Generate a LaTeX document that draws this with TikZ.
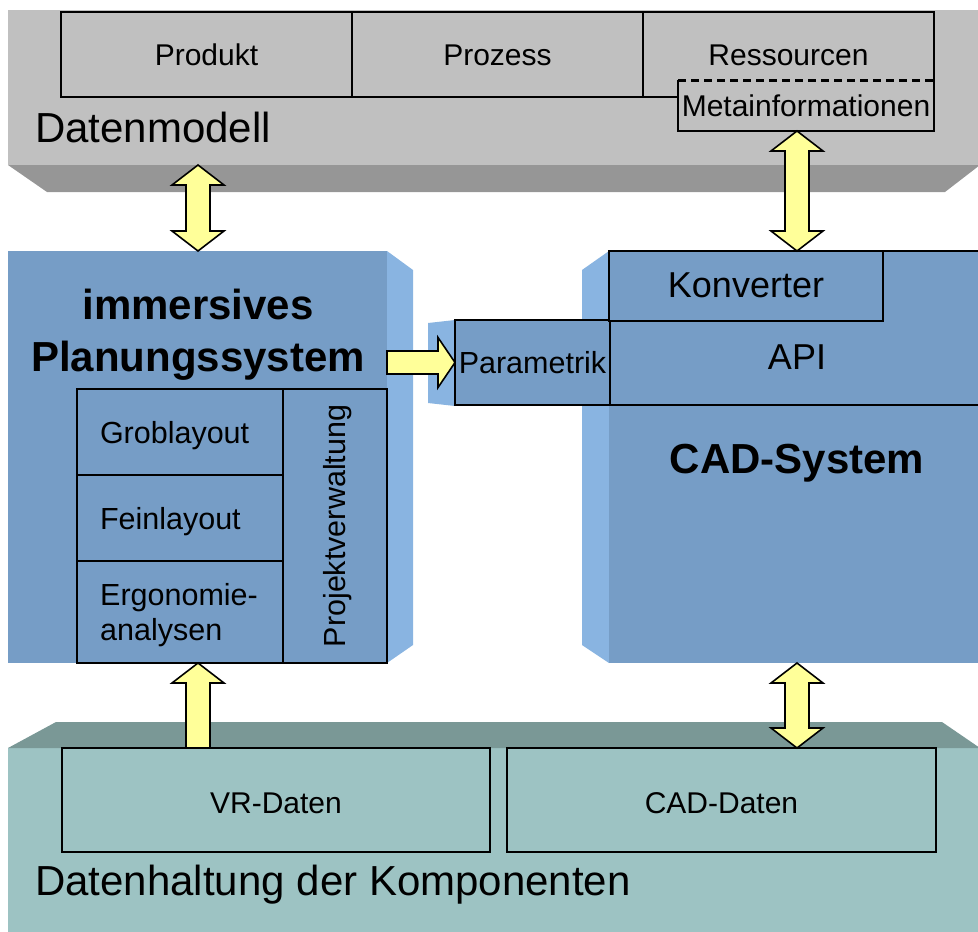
\documentclass[tikz,border=0pt]{standalone}
\usepackage{fontspec}
\setmainfont{Liberation Sans}
\usetikzlibrary{calc}
\definecolor{dmgray}{RGB}{192,192,192}
\definecolor{dmshade}{RGB}{150,150,150}
\definecolor{blkblue}{RGB}{118,157,198}
\definecolor{blkside}{RGB}{137,180,225}
\definecolor{dhteal}{RGB}{157,195,195}
\definecolor{dhshade}{RGB}{122,152,150}
\definecolor{arrowyellow}{RGB}{255,255,153}

% vertical double block arrow: #1 top tip, #2 bottom tip
\newcommand{\vdblarrow}[2]{\draw[yarrow] (#1) -- ++(26,20) -- ++(-14,0) -- ($(#2)+(12,-20)$) -- ++(14,0) -- (#2) -- ++(-26,-20) -- ++(14,0) -- ($(#1)+(-12,20)$) -- ++(-14,0) -- cycle;}
% vertical single block arrow: #1 tip (top), #2 tail (bottom)
\newcommand{\vuparrow}[2]{\draw[yarrow] (#1) -- ++(26,20) -- ++(-14,0) -- ($(#2)+(12,0)$) -- ($(#2)+(-12,0)$) -- ($(#1)+(-12,20)$) -- ++(-14,0) -- cycle;}
% horizontal single block arrow: #1 tail, #2 tip
\newcommand{\hrarrow}[2]{\draw[yarrow] ($(#1)+(0,-11.5)$) -- ($(#2)+(-17,-11.5)$) -- ($(#2)+(-17,-25)$) -- (#2) -- ($(#2)+(-17,25)$) -- ($(#2)+(-17,11.5)$) -- ($(#1)+(0,11.5)$) -- cycle;}

\begin{document}
\begin{tikzpicture}[x=1pt,y=-1pt,
  area/.style={draw=none, inner sep=0pt, outer sep=0pt},
  box/.style={draw=black, line width=1.8pt, inner sep=0pt, outer sep=0pt},
  yarrow/.style={fill=arrowyellow, draw=black, line width=1.6pt, line join=miter},
  fA/.style={font=\fontsize{30}{35}\selectfont, text height=21.5pt, text depth=0pt},
  fB/.style={font=\fontsize{30.5}{35}\selectfont},
  fC/.style={font=\fontsize{36}{42}\selectfont},
  fD/.style={font=\fontsize{42}{49}\selectfont},
  fE/.style={font=\fontsize{42}{52}\selectfont\bfseries},
  cell/.style={box, fill=blkblue, fB, text width=160pt, inner xsep=23pt, align=left},
  oneline/.style={text height=22pt, text depth=0pt},
]
\useasboundingbox (0,0) rectangle (978,932);

% ---------- Datenmodell band ----------
\node[area, fill=dmgray, minimum width=972, minimum height=155] (dmband) at (494,87.5) {};
\fill[dmshade] (dmband.south west) -- (dmband.south east) -- (945,192) -- (47,192) -- cycle;

% ---------- Datenhaltung band ----------
\node[area, fill=dhteal, minimum width=972, minimum height=186] (dhband) at (494,841) {};
\fill[dhshade] (56,722) -- (942,722) -- (dhband.north east) -- (dhband.north west) -- cycle;

% ---------- left block ----------
\fill[blkside] (387,251) -- (413,270) -- (413,645) -- (387,663) -- cycle;
\node[area, fill=blkblue, minimum width=379, minimum height=412] (leftblk) at (197.5,457) {};

% ---------- right block ----------
\fill[blkside] (609,251) -- (582,270) -- (582,645) -- (609,663) -- cycle;
\node[area, fill=blkblue, minimum width=371, minimum height=412] (rightblk) at (794.5,457) {};

% ---------- Parametrik ----------
\fill[blkside] (455,320) -- (428,323) -- (428,403) -- (455,406) -- cycle;
\node[box, fill=blkblue, fB, oneline, minimum width=155, minimum height=85] (param) at (532.5,362.5) {Parametrik};

% ---------- top boxes ----------
\node[box, fA, minimum width=291, minimum height=85] (produkt) at (206.5,54.5) {Produkt};
\node[box, fA, minimum width=291, minimum height=85] (prozess) at (497.5,54.5) {Prozess};
\node[box, fA, minimum width=291, minimum height=85] (ressourcen) at (788.5,54.5) {Ressourcen};
\node[area, fill=dmgray, fA, minimum width=256, minimum height=51] (meta) at (806,105.5) {Metainformationen};
\draw[line width=1.8pt] (meta.north west) -- (meta.south west) -- (meta.south east) -- (meta.north east);
\draw[line width=3pt, dash pattern=on 8pt off 5pt] (meta.north west) -- (meta.north east);
\node[fD, anchor=base west, inner sep=0pt] (dmlabel) at (35,142) {Datenmodell};

% ---------- immersives Planungssystem ----------
\node[fE, align=center, inner sep=0pt] (title) at (198,335) {immersives\\Planungssystem};
\node[cell, oneline, minimum height=86] (grob) at (180,432) {Groblayout};
\node[cell, oneline, minimum height=86] (fein) at (180,518) {Feinlayout};
\node[cell, minimum height=102] (ergo) at (180,612) {};
\node[fB, align=left, anchor=base west, inner sep=0pt] (ergotext) at (100,640) {Ergonomie-\\analysen};
\node[box, fill=blkblue, minimum width=104, minimum height=274] (proj) at (335,526) {};
\node[fB, rotate=90, text height=21.5pt, text depth=0pt, inner sep=0pt] (projtext) at (proj.center) {Projektverwaltung};

% ---------- CAD-System ----------
\draw[line width=1.8pt] (rightblk.north west) -- (rightblk.north east);
\draw[line width=1.8pt] (param.south east) -- (param.south east -| rightblk.east);
\node[box, fill=blkblue, fC, oneline, minimum width=274, minimum height=70] (konv) at (746,286) {Konverter};
\node[fC, anchor=base, inner sep=0pt] (api) at (797,369) {API};
\node[fE, anchor=base, inner sep=0pt] (cadtitle) at (797,473) {CAD-System};

% ---------- bottom boxes ----------
\node[box, fA, minimum width=428, minimum height=104] (vr) at (276,800) {};
\node[fA, inner sep=0pt] (vrtext) at (276,803) {VR-Daten};
\node[box, fA, minimum width=429, minimum height=104] (cad) at (721.5,800) {};
\node[fA, inner sep=0pt] (cadtext) at (721.5,803) {CAD-Daten};
\node[fD, anchor=base west, inner sep=0pt] (dhlabel) at (35,895) {Datenhaltung der Komponenten};

% ---------- arrows ----------
\coordinate (a1t) at (dmband.south -| title);
\coordinate (a1b) at (leftblk.north -| title);
\coordinate (a2t) at (meta.south -| cadtitle);
\coordinate (a2b) at (rightblk.north -| cadtitle);
\coordinate (a3t) at (leftblk.south -| title);
\coordinate (a3b) at (vr.north -| title);
\coordinate (a4t) at (rightblk.south -| cadtitle);
\coordinate (a4b) at (cad.north -| cadtitle);
\coordinate (a5s) at (leftblk.east |- param.west);
\vdblarrow{a1t}{a1b}
\vdblarrow{a2t}{a2b}
\vuparrow{a3t}{a3b}
\vdblarrow{a4t}{a4b}
\hrarrow{a5s}{param.west}
\end{tikzpicture}
\end{document}
